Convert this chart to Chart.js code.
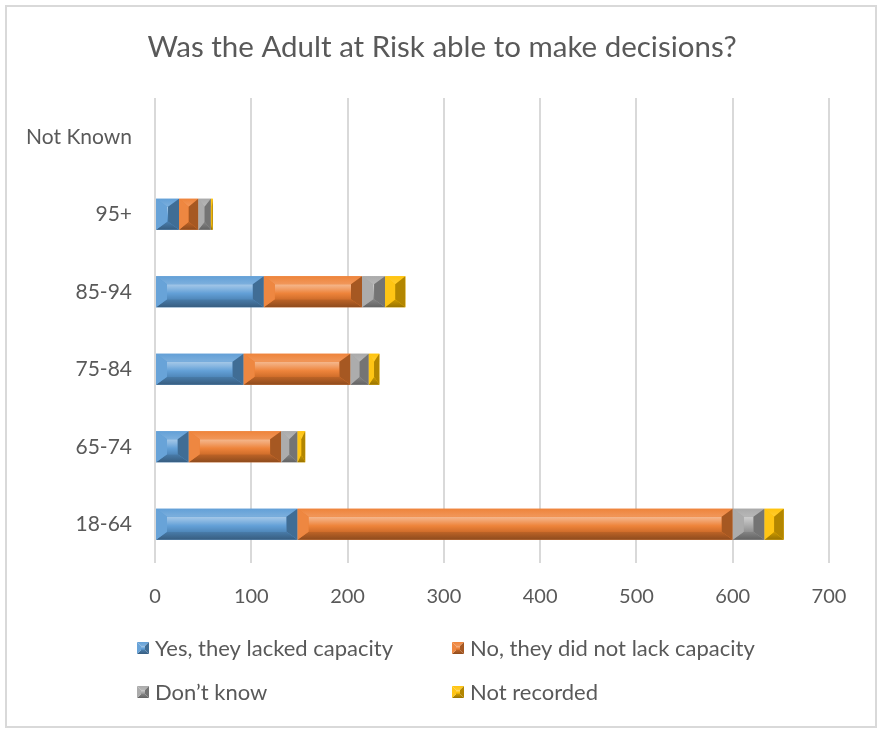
<!DOCTYPE html>
<html>
<head>
<meta charset="utf-8">
<script src="https://cdn.jsdelivr.net/npm/chart.js@4/dist/chart.umd.min.js"></script>
<style>
  html, body { margin: 0; padding: 0; background: #fff; }
  #wrap { position: relative; width: 878px; height: 729px; }
</style>
</head>
<body>
<div id="wrap"><canvas id="chart" width="878" height="729"></canvas></div>
<script>
// age bands, bottom to top
const ageBands = ['18-64', '65-74', '75-84', '85-94', '95+', 'Not Known'];
const lackedCapacity = [148, 35, 92, 113, 25, 0];
const notLacking = [452, 96, 111, 102, 20, 0];
const dontKnow = [33, 17, 19, 24, 13, 0];
const notRecorded = [20, 8, 11, 21, 2, 0];
const xTicks = [0, 100, 200, 300, 400, 500, 600, 700];

const TITLE = 'Was the Adult at Risk able to make decisions?';
const TEXT = '#595959';
const FONT = 'Lato, "Noto Sans", sans-serif';

function mix(hex, t) {
  const n = parseInt(hex.slice(1), 16);
  let r = n >> 16, g = (n >> 8) & 255, b = n & 255;
  const to = t > 0 ? 255 : 0, k = Math.abs(t);
  r = Math.round(r + (to - r) * k);
  g = Math.round(g + (to - g) * k);
  b = Math.round(b + (to - b) * k);
  return `rgb(${r},${g},${b})`;
}

// angled bevel look for one rectangle
function bevelRect(ctx, l, t, w, h, c, depthX, depthY) {
  const r = l + w, b = t + h;
  const dx = Math.min(depthX, w / 2), dy = Math.min(depthY, h / 2);
  const il = l + dx, ir = r - dx, it = t + dy, ib = b - dy;

  const g = ctx.createLinearGradient(0, it, 0, ib);
  g.addColorStop(0, mix(c, 0.45));
  g.addColorStop(0.25, mix(c, 0.3));
  g.addColorStop(0.6, mix(c, 0.05));
  g.addColorStop(1, mix(c, -0.12));
  ctx.fillStyle = g;
  ctx.fillRect(il, it, Math.max(ir - il, 0), ib - it);

  const poly = (pts, fill) => {
    ctx.beginPath();
    ctx.moveTo(pts[0], pts[1]);
    for (let i = 2; i < pts.length; i += 2) ctx.lineTo(pts[i], pts[i + 1]);
    ctx.closePath();
    ctx.fillStyle = fill;
    ctx.fill();
  };
  // top
  const gt = ctx.createLinearGradient(0, t, 0, it);
  gt.addColorStop(0, mix(c, 0.05));
  gt.addColorStop(1, mix(c, 0.2));
  poly([l, t, r, t, ir, it, il, it], gt);
  // bottom
  const gb = ctx.createLinearGradient(0, ib, 0, b);
  gb.addColorStop(0, mix(c, -0.2));
  gb.addColorStop(1, mix(c, -0.4));
  poly([il, ib, ir, ib, r, b, l, b], gb);
  // left
  poly([l, t, il, it, il, ib, l, b], mix(c, 0.08));
  // right
  poly([r, t, ir, it, ir, ib, r, b], mix(c, -0.3));
}

const bevelBars = {
  id: 'bevelBars',
  afterDatasetsDraw(chart) {
    const ctx = chart.ctx;
    ctx.save();
    chart.data.datasets.forEach((ds, i) => {
      const meta = chart.getDatasetMeta(i);
      if (meta.hidden) return;
      meta.data.forEach(el => {
        const p = el.getProps(['x', 'y', 'base', 'height'], true);
        const l = Math.min(p.x, p.base), w = Math.abs(p.x - p.base);
        if (w < 0.5) return;
        bevelRect(ctx, l, p.y - p.height / 2, w, p.height, ds.backgroundColor, 11, 8);
      });
    });
    ctx.restore();
  }
};

// frame, title and a two-column legend under the axis
const frameAndLegend = {
  id: 'frameAndLegend',
  afterDraw(chart) {
    const ctx = chart.ctx;
    ctx.save();
    ctx.strokeStyle = '#d9d9d9';
    ctx.lineWidth = 2;
    ctx.strokeRect(6, 6, 870, 721);

    ctx.fillStyle = TEXT;
    ctx.textAlign = 'center';
    ctx.textBaseline = 'middle';
    ctx.font = `29.5px ${FONT}`;
    ctx.fillText(TITLE, 442, 47);

    const cols = [137, 452], rows = [648, 692];
    ctx.textAlign = 'left';
    ctx.font = `22px ${FONT}`;
    chart.data.datasets.forEach((ds, i) => {
      const x = cols[i % 2], y = rows[Math.floor(i / 2)];
      bevelRect(ctx, x, y - 6, 12, 12, ds.backgroundColor, 4, 4);
      ctx.fillStyle = TEXT;
      ctx.fillText(ds.label, x + 18, y + 1);
    });
    ctx.restore();
  }
};

const series = [
  ['Yes, they lacked capacity', lackedCapacity, '#5B9BD5'],
  ['No, they did not lack capacity', notLacking, '#ED7D31'],
  ['Don\u2019t know', dontKnow, '#A5A5A5'],
  ['Not recorded', notRecorded, '#FFC000']
];

new Chart(document.getElementById('chart'), {
  type: 'bar',
  data: {
    labels: ageBands,
    datasets: series.map(([label, data, color]) => ({
      label, data, backgroundColor: color, borderWidth: 0,
      categoryPercentage: 0.8, barPercentage: 0.5
    }))
  },
  options: {
    indexAxis: 'y',
    responsive: false,
    animation: false,
    layout: { padding: { left: 0, right: 49, top: 98, bottom: 116 } },
    plugins: {
      legend: { display: false },
      tooltip: { enabled: false },
      title: { display: false }
    },
    scales: {
      x: {
        stacked: true,
        min: 0, max: 700,
        afterBuildTicks: s => { s.ticks = xTicks.map(v => ({ value: v })); },
        afterFit: s => { s.height = 50; },
        grid: { color: '#d9d9d9', lineWidth: 2, drawTicks: false },
        border: { display: false },
        ticks: { color: TEXT, font: { family: FONT, size: 20 }, padding: 22 }
      },
      y: {
        stacked: true,
        reverse: true,
        afterFit: s => { s.width = 155; },
        grid: { display: false, drawTicks: false },
        border: { display: false },
        ticks: { color: TEXT, font: { family: FONT, size: 21 }, padding: 23 }
      }
    }
  },
  plugins: [bevelBars, frameAndLegend]
});
</script>
</body>
</html>
